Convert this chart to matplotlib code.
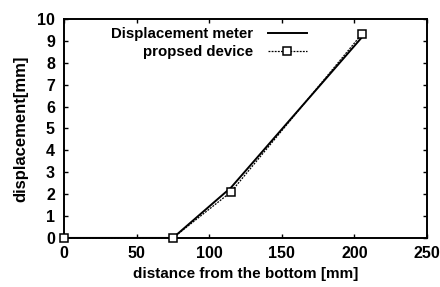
import matplotlib
matplotlib.use("Agg")
import matplotlib.pyplot as plt

plt.rcParams['font.family'] = ['Liberation Sans', 'DejaVu Sans']
plt.rcParams['font.weight'] = 'bold'
plt.rcParams['axes.labelweight'] = 'bold'

# data
dist_meter = [0, 75, 115, 205]
disp_meter = [0, 0, 2.3, 9.15]
dist_device = [0, 75, 115, 205]
disp_device = [0, 0, 2.1, 9.3]

xticks = [0, 50, 100, 150, 200, 250]
yticks = list(range(0, 11))

fig = plt.figure(figsize=(4.4, 2.87), dpi=100)
ax = fig.add_axes([0.1455, 0.171, 0.825, 0.763])

ax.plot(dist_meter, disp_meter, color='black', lw=1.4, label='Displacement meter')
ax.plot(dist_device, disp_device, color='black', lw=0.9, ls=(0, (1.5, 1)),
        marker='s', markersize=5.5, markerfacecolor='white', markeredgecolor='black',
        markeredgewidth=1.1, label='propsed device', clip_on=False, zorder=5)

ax.set_xlim(0, 250)
ax.set_ylim(0, 10)
ax.set_xticks(xticks)
ax.set_yticks(yticks)
ax.tick_params(direction='in', top=True, right=True, length=3, width=1,
               labelsize=11.5)
ax.tick_params(axis='x', pad=6)
ax.tick_params(axis='y', pad=6.5)
for s in ax.spines.values():
    s.set_linewidth(1.4)

ax.set_xlabel('distance from the bottom [mm]', fontsize=11, labelpad=4)
ax.set_ylabel('displacement[mm]', fontsize=12, labelpad=6)

ax.legend(loc='upper right', bbox_to_anchor=(0.685, 0.99), frameon=False,
          markerfirst=False, prop={'size': 10.8, 'weight': 'bold'},
          handlelength=2.6, handletextpad=1.0,
          labelspacing=0.25, borderaxespad=0)

fig.savefig('out.png', dpi=100)
